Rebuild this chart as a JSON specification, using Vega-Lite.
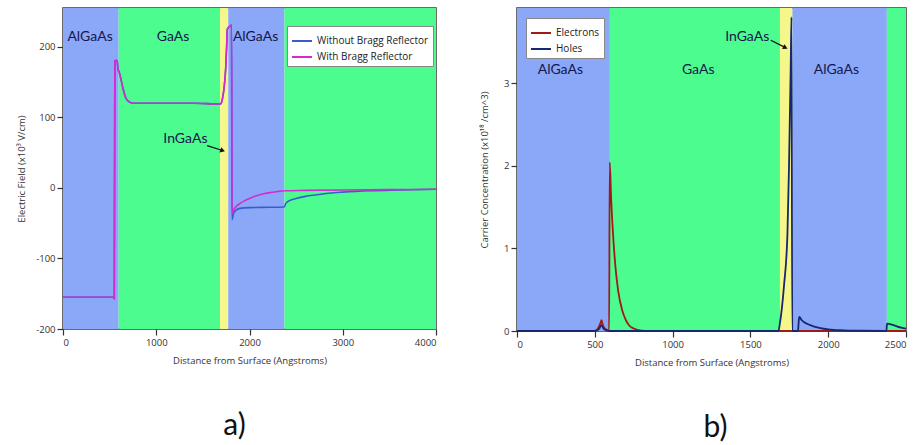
{
  "$schema": "https://vega.github.io/schema/vega-lite/v6.json",
  "background": "white",
  "padding": {"left": 15, "top": 7, "right": 5, "bottom": 5},
  "spacing": 38,
  "resolve": {"scale": {"stroke": "independent", "fill": "independent"}, "legend": {"stroke": "independent"}},
  "config": {
    "view": {"stroke": "#3a3a3a", "strokeWidth": 1.5},
    "axis": {
      "grid": false,
      "domain": false,
      "labelFont": "Open Sans",
      "labelFontSize": 9.5,
      "labelColor": "#333333",
      "labelExpr": "'' + datum.value",
      "titleFont": "Open Sans",
      "titleFontSize": 9.5,
      "titleFontWeight": "normal",
      "titleColor": "#333333",
      "tickColor": "#333333",
      "tickSize": 6,
      "tickWidth": 1.2
    },
    "legend": {
      "orient": "none",
      "title": null,
      "fillColor": "white",
      "strokeColor": "#888888",
      "padding": 4,
      "symbolType": "stroke",
      "symbolSize": 400,
      "symbolStrokeWidth": 2,
      "labelFont": "Open Sans",
      "labelFontSize": 10,
      "labelColor": "#222222",
      "rowPadding": 0
    }
  },
  "datasets": {
    "fieldRegions": [
      {"start": 0, "end": 597, "material": "AlGaAs"},
      {"start": 597, "end": 1685, "material": "GaAs"},
      {"start": 1685, "end": 1772, "material": "InGaAs"},
      {"start": 1772, "end": 2375, "material": "AlGaAs"},
      {"start": 2375, "end": 4000, "material": "GaAs"}
    ],
    "carrierRegions": [
      {"start": 0, "end": 597, "material": "AlGaAs"},
      {"start": 597, "end": 1690, "material": "GaAs"},
      {"start": 1690, "end": 1770, "material": "InGaAs"},
      {"start": 1770, "end": 2377, "material": "AlGaAs"},
      {"start": 2377, "end": 2500, "material": "GaAs"}
    ],
    "field": [
      {"series": "Without Bragg Reflector", "x": 0, "E": -155},
      {"series": "Without Bragg Reflector", "x": 540, "E": -155},
      {"series": "Without Bragg Reflector", "x": 550, "E": -157},
      {"series": "Without Bragg Reflector", "x": 556, "E": 180},
      {"series": "Without Bragg Reflector", "x": 575, "E": 181},
      {"series": "Without Bragg Reflector", "x": 582, "E": 179},
      {"series": "Without Bragg Reflector", "x": 590, "E": 168},
      {"series": "Without Bragg Reflector", "x": 600, "E": 165},
      {"series": "Without Bragg Reflector", "x": 615, "E": 158},
      {"series": "Without Bragg Reflector", "x": 635, "E": 146},
      {"series": "Without Bragg Reflector", "x": 655, "E": 135},
      {"series": "Without Bragg Reflector", "x": 680, "E": 126},
      {"series": "Without Bragg Reflector", "x": 710, "E": 122},
      {"series": "Without Bragg Reflector", "x": 760, "E": 120},
      {"series": "Without Bragg Reflector", "x": 1000, "E": 120},
      {"series": "Without Bragg Reflector", "x": 1400, "E": 120},
      {"series": "Without Bragg Reflector", "x": 1690, "E": 119},
      {"series": "Without Bragg Reflector", "x": 1700, "E": 121},
      {"series": "Without Bragg Reflector", "x": 1715, "E": 130},
      {"series": "Without Bragg Reflector", "x": 1730, "E": 145},
      {"series": "Without Bragg Reflector", "x": 1745, "E": 170},
      {"series": "Without Bragg Reflector", "x": 1755, "E": 200},
      {"series": "Without Bragg Reflector", "x": 1762, "E": 225},
      {"series": "Without Bragg Reflector", "x": 1772, "E": 227},
      {"series": "Without Bragg Reflector", "x": 1800, "E": 230},
      {"series": "Without Bragg Reflector", "x": 1808, "E": 231},
      {"series": "Without Bragg Reflector", "x": 1812, "E": -45},
      {"series": "Without Bragg Reflector", "x": 1830, "E": -36},
      {"series": "Without Bragg Reflector", "x": 1860, "E": -31},
      {"series": "Without Bragg Reflector", "x": 1900, "E": -29},
      {"series": "Without Bragg Reflector", "x": 2000, "E": -28},
      {"series": "Without Bragg Reflector", "x": 2200, "E": -27.5},
      {"series": "Without Bragg Reflector", "x": 2372, "E": -27},
      {"series": "Without Bragg Reflector", "x": 2390, "E": -22},
      {"series": "Without Bragg Reflector", "x": 2430, "E": -18},
      {"series": "Without Bragg Reflector", "x": 2500, "E": -15},
      {"series": "Without Bragg Reflector", "x": 2600, "E": -12},
      {"series": "Without Bragg Reflector", "x": 2700, "E": -10},
      {"series": "Without Bragg Reflector", "x": 2850, "E": -7.5},
      {"series": "Without Bragg Reflector", "x": 3000, "E": -6},
      {"series": "Without Bragg Reflector", "x": 3300, "E": -4},
      {"series": "Without Bragg Reflector", "x": 3600, "E": -3},
      {"series": "Without Bragg Reflector", "x": 4000, "E": -2},
      {"series": "With Bragg Reflector", "x": 0, "E": -155},
      {"series": "With Bragg Reflector", "x": 540, "E": -155},
      {"series": "With Bragg Reflector", "x": 550, "E": -157},
      {"series": "With Bragg Reflector", "x": 556, "E": 180},
      {"series": "With Bragg Reflector", "x": 575, "E": 181},
      {"series": "With Bragg Reflector", "x": 582, "E": 179},
      {"series": "With Bragg Reflector", "x": 590, "E": 168},
      {"series": "With Bragg Reflector", "x": 600, "E": 165},
      {"series": "With Bragg Reflector", "x": 615, "E": 158},
      {"series": "With Bragg Reflector", "x": 635, "E": 146},
      {"series": "With Bragg Reflector", "x": 655, "E": 135},
      {"series": "With Bragg Reflector", "x": 680, "E": 126},
      {"series": "With Bragg Reflector", "x": 710, "E": 122},
      {"series": "With Bragg Reflector", "x": 760, "E": 120},
      {"series": "With Bragg Reflector", "x": 1000, "E": 120},
      {"series": "With Bragg Reflector", "x": 1400, "E": 120},
      {"series": "With Bragg Reflector", "x": 1690, "E": 119},
      {"series": "With Bragg Reflector", "x": 1700, "E": 121},
      {"series": "With Bragg Reflector", "x": 1715, "E": 130},
      {"series": "With Bragg Reflector", "x": 1730, "E": 145},
      {"series": "With Bragg Reflector", "x": 1745, "E": 170},
      {"series": "With Bragg Reflector", "x": 1755, "E": 200},
      {"series": "With Bragg Reflector", "x": 1762, "E": 225},
      {"series": "With Bragg Reflector", "x": 1772, "E": 227},
      {"series": "With Bragg Reflector", "x": 1800, "E": 230},
      {"series": "With Bragg Reflector", "x": 1808, "E": 231},
      {"series": "With Bragg Reflector", "x": 1812, "E": -37},
      {"series": "With Bragg Reflector", "x": 1830, "E": -31},
      {"series": "With Bragg Reflector", "x": 1860, "E": -26},
      {"series": "With Bragg Reflector", "x": 1900, "E": -22},
      {"series": "With Bragg Reflector", "x": 1950, "E": -18},
      {"series": "With Bragg Reflector", "x": 2000, "E": -15},
      {"series": "With Bragg Reflector", "x": 2100, "E": -10},
      {"series": "With Bragg Reflector", "x": 2200, "E": -7},
      {"series": "With Bragg Reflector", "x": 2300, "E": -5},
      {"series": "With Bragg Reflector", "x": 2380, "E": -4},
      {"series": "With Bragg Reflector", "x": 2600, "E": -3.5},
      {"series": "With Bragg Reflector", "x": 3000, "E": -3},
      {"series": "With Bragg Reflector", "x": 3500, "E": -2.5},
      {"series": "With Bragg Reflector", "x": 4000, "E": -2}
    ],
    "carriers": [
      {"carrier": "Electrons", "x": 0, "n": 0},
      {"carrier": "Electrons", "x": 500, "n": 0},
      {"carrier": "Electrons", "x": 520, "n": 0.03},
      {"carrier": "Electrons", "x": 535, "n": 0.09},
      {"carrier": "Electrons", "x": 543, "n": 0.13},
      {"carrier": "Electrons", "x": 552, "n": 0.07},
      {"carrier": "Electrons", "x": 570, "n": 0.02},
      {"carrier": "Electrons", "x": 592, "n": 0.005},
      {"carrier": "Electrons", "x": 596, "n": 2.04},
      {"carrier": "Electrons", "x": 605, "n": 1.6},
      {"carrier": "Electrons", "x": 615, "n": 1.24},
      {"carrier": "Electrons", "x": 633, "n": 0.77},
      {"carrier": "Electrons", "x": 650, "n": 0.49},
      {"carrier": "Electrons", "x": 676, "n": 0.25},
      {"carrier": "Electrons", "x": 700, "n": 0.13},
      {"carrier": "Electrons", "x": 720, "n": 0.07},
      {"carrier": "Electrons", "x": 750, "n": 0.03},
      {"carrier": "Electrons", "x": 800, "n": 0.005},
      {"carrier": "Electrons", "x": 850, "n": 0},
      {"carrier": "Electrons", "x": 2500, "n": 0},
      {"carrier": "Holes", "x": 0, "n": 0},
      {"carrier": "Holes", "x": 500, "n": 0},
      {"carrier": "Holes", "x": 525, "n": 0.02},
      {"carrier": "Holes", "x": 543, "n": 0.07},
      {"carrier": "Holes", "x": 560, "n": 0.02},
      {"carrier": "Holes", "x": 590, "n": 0},
      {"carrier": "Holes", "x": 1680, "n": 0},
      {"carrier": "Holes", "x": 1690, "n": 0.1},
      {"carrier": "Holes", "x": 1716, "n": 0.55},
      {"carrier": "Holes", "x": 1738, "n": 1.17},
      {"carrier": "Holes", "x": 1748, "n": 1.98},
      {"carrier": "Holes", "x": 1759, "n": 3.19},
      {"carrier": "Holes", "x": 1764, "n": 3.8},
      {"carrier": "Holes", "x": 1769, "n": 0},
      {"carrier": "Holes", "x": 1806, "n": 0},
      {"carrier": "Holes", "x": 1810, "n": 0.1},
      {"carrier": "Holes", "x": 1814, "n": 0.17},
      {"carrier": "Holes", "x": 1830, "n": 0.13},
      {"carrier": "Holes", "x": 1860, "n": 0.09},
      {"carrier": "Holes", "x": 1900, "n": 0.06},
      {"carrier": "Holes", "x": 1950, "n": 0.035},
      {"carrier": "Holes", "x": 2000, "n": 0.02},
      {"carrier": "Holes", "x": 2100, "n": 0.008},
      {"carrier": "Holes", "x": 2200, "n": 0.003},
      {"carrier": "Holes", "x": 2374, "n": 0},
      {"carrier": "Holes", "x": 2378, "n": 0.09},
      {"carrier": "Holes", "x": 2420, "n": 0.07},
      {"carrier": "Holes", "x": 2470, "n": 0.04},
      {"carrier": "Holes", "x": 2500, "n": 0.03}
    ],
    "fieldLabels": [
      {"label": "AlGaAs", "x": 290, "y": 214},
      {"label": "GaAs", "x": 1180, "y": 214},
      {"label": "AlGaAs", "x": 2065, "y": 214},
      {"label": "InGaAs", "x": 1313, "y": 70}
    ],
    "carrierLabels": [
      {"label": "AlGaAs", "x": 279, "y": 3.16},
      {"label": "GaAs", "x": 1165, "y": 3.16},
      {"label": "AlGaAs", "x": 2053, "y": 3.16},
      {"label": "InGaAs", "x": 1480, "y": 3.56}
    ],
    "fieldArrow": [{"x": 1545, "y": 60, "xEnd": 1712, "yEnd": 53}],
    "carrierArrow": [{"x": 1631, "y": 3.52, "xEnd": 1725, "yEnd": 3.43}]
  },
  "hconcat": [
    {
      "width": 373,
      "height": 321,
      "title": {"text": "a)", "orient": "bottom", "fontSize": 30, "font": "Lato", "fontWeight": "normal", "color": "#111111", "offset": 46, "dx": -15},
      "layer": [
        {
          "data": {"name": "fieldRegions"},
          "mark": {"type": "rect"},
          "encoding": {
            "x": {"field": "start", "type": "quantitative", "scale": {"domain": [0, 4000], "nice": false}, "axis": {"values": [0, 1000, 2000, 3000, 4000], "titlePadding": 9}, "title": "Distance from Surface (Angstroms)"},
            "x2": {"field": "end"},
            "fill": {"field": "material", "type": "nominal", "scale": {"domain": ["AlGaAs", "GaAs", "InGaAs"], "range": ["#8aa8f7", "#4dfc8f", "#f6f78a"]}, "legend": null}
          }
        },
        {
          "data": {"name": "field"},
          "mark": {"type": "line", "strokeWidth": 1.6, "interpolate": "monotone"},
          "encoding": {
            "x": {"field": "x", "type": "quantitative", "scale": {"domain": [0, 4000], "nice": false}},
            "y": {"field": "E", "type": "quantitative", "scale": {"domain": [-200, 255], "nice": false, "zero": false}, "axis": {"values": [-200, -100, 0, 100, 200], "titlePadding": 9}, "title": "Electric Field (x10³ V/cm)"},
            "stroke": {"field": "series", "type": "nominal", "scale": {"domain": ["Without Bragg Reflector", "With Bragg Reflector"], "range": ["#3a5bd0", "#d62ad0"]}, "legend": {"legendX": 224, "legendY": 18}}
          }
        },
        {
          "data": {"name": "fieldLabels"},
          "mark": {"type": "text", "font": "Lato", "fontSize": 14, "color": "#16164d", "align": "center", "baseline": "middle"},
          "encoding": {
            "x": {"field": "x", "type": "quantitative"},
            "y": {"field": "y", "type": "quantitative"},
            "text": {"field": "label"}
          }
        },
        {
          "data": {"name": "fieldArrow"},
          "mark": {"type": "rule", "color": "#111111", "strokeWidth": 1.2},
          "encoding": {
            "x": {"field": "x", "type": "quantitative"},
            "y": {"field": "y", "type": "quantitative"},
            "x2": {"field": "xEnd"},
            "y2": {"field": "yEnd"}
          }
        },
        {
          "data": {"name": "fieldArrow"},
          "mark": {"type": "point", "shape": "triangle-right", "filled": true, "color": "#111111", "size": 30, "angle": 18, "opacity": 1},
          "encoding": {
            "x": {"field": "xEnd", "type": "quantitative"},
            "y": {"field": "yEnd", "type": "quantitative"}
          }
        }
      ]
    },
    {
      "width": 389,
      "height": 323,
      "title": {"text": "b)", "orient": "bottom", "fontSize": 30, "font": "Lato", "fontWeight": "normal", "color": "#111111", "offset": 46, "dx": 4},
      "layer": [
        {
          "data": {"name": "carrierRegions"},
          "mark": {"type": "rect"},
          "encoding": {
            "x": {"field": "start", "type": "quantitative", "scale": {"domain": [0, 2500], "nice": false}, "axis": {"values": [0, 500, 1000, 1500, 2000, 2500], "titlePadding": 9}, "title": "Distance from Surface (Angstroms)"},
            "x2": {"field": "end"},
            "fill": {"field": "material", "type": "nominal", "scale": {"domain": ["AlGaAs", "GaAs", "InGaAs"], "range": ["#8aa8f7", "#4dfc8f", "#f6f78a"]}, "legend": null}
          }
        },
        {
          "data": {"name": "carriers"},
          "mark": {"type": "line", "strokeWidth": 1.8, "interpolate": "monotone"},
          "encoding": {
            "x": {"field": "x", "type": "quantitative", "scale": {"domain": [0, 2500], "nice": false}},
            "y": {"field": "n", "type": "quantitative", "scale": {"domain": [0, 3.91], "nice": false}, "axis": {"values": [0, 1, 2, 3], "titlePadding": 14}, "title": "Carrier Concentration (x10¹⁸  /cm^3)"},
            "stroke": {"field": "carrier", "type": "nominal", "scale": {"domain": ["Electrons", "Holes"], "range": ["#a11a1a", "#16286e"]}, "legend": {"legendX": 9, "legendY": 10}}
          }
        },
        {
          "data": {"name": "carrierLabels"},
          "mark": {"type": "text", "font": "Lato", "fontSize": 14, "color": "#16164d", "align": "center", "baseline": "middle"},
          "encoding": {
            "x": {"field": "x", "type": "quantitative"},
            "y": {"field": "y", "type": "quantitative"},
            "text": {"field": "label"}
          }
        },
        {
          "data": {"name": "carrierArrow"},
          "mark": {"type": "rule", "color": "#111111", "strokeWidth": 1.2},
          "encoding": {
            "x": {"field": "x", "type": "quantitative"},
            "y": {"field": "y", "type": "quantitative"},
            "x2": {"field": "xEnd"},
            "y2": {"field": "yEnd"}
          }
        },
        {
          "data": {"name": "carrierArrow"},
          "mark": {"type": "point", "shape": "triangle-right", "filled": true, "color": "#111111", "size": 30, "angle": 26, "opacity": 1},
          "encoding": {
            "x": {"field": "xEnd", "type": "quantitative"},
            "y": {"field": "yEnd", "type": "quantitative"}
          }
        }
      ]
    }
  ]
}
